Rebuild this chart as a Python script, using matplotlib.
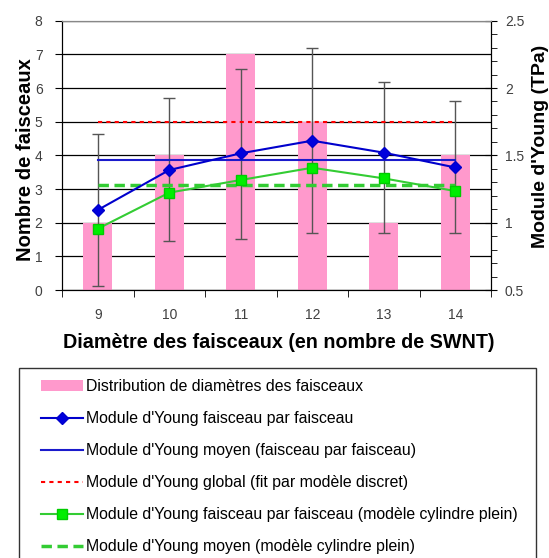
import matplotlib
matplotlib.use('Agg')
import matplotlib.pyplot as plt
from matplotlib.patches import Rectangle
import numpy as np

plt.rcParams['font.family'] = ['Liberation Sans', 'DejaVu Sans']

# data
diam = [9, 10, 11, 12, 13, 14]
counts = [2, 4, 7, 5, 2, 4]
young_fpf = [1.094, 1.391, 1.515, 1.609, 1.52, 1.41]
err_top = [1.658, 1.928, 2.139, 2.297, 2.047, 1.906]
err_bottom = [0.53, 0.864, 0.881, 0.926, 0.926, 0.926]
young_mean = 1.463
young_global = 1.75
young_cyl = [0.955, 1.223, 1.317, 1.408, 1.329, 1.235]
young_cyl_mean = 1.28
left_ticks = [0, 1, 2, 3, 4, 5, 6, 7, 8]
right_ticks = [0.5, 1, 1.5, 2, 2.5]
right_ticklabels = ['0.5', '1', '1.5', '2', '2.5']

labels = ["Distribution de diamètres des faisceaux",
          "Module d'Young faisceau par faisceau",
          "Module d'Young moyen (faisceau par faisceau)",
          "Module d'Young global (fit par modèle discret)",
          "Module d'Young faisceau par faisceau (modèle cylindre plein)",
          "Module d'Young moyen (modèle cylindre plein)"]

W, H = 549, 558
fig = plt.figure(figsize=(W / 100, H / 100), dpi=100)
ax = fig.add_axes([62 / W, 1 - 290 / H, (491 - 62) / W, (290 - 20.7) / H])
ax2 = ax.twinx()

x = np.array(diam)
tick_col = '#404040'

# bars + grid on the left axis
ax.set_axisbelow(True)
ax.yaxis.grid(True, color='black', linewidth=0.9)
bars = ax.bar(x, counts, width=0.4, color='#FF99CC', zorder=2)
ax.set_xlim(8.5, 14.5)
ax.set_ylim(0, 8)
ax.set_yticks(left_ticks)
ax.set_xticks(x)
ax.set_xticks(np.arange(8.5, 15, 1), minor=True)
ax.tick_params(axis='x', which='major', length=0, pad=13, labelsize=10, labelcolor=tick_col)
ax.tick_params(axis='x', which='minor', length=5, direction='out', color='black')
ax.tick_params(axis='y', length=5, direction='out', pad=9, labelsize=10, labelcolor=tick_col)
ax.set_ylabel('Nombre de faisceaux', fontsize=14.5, fontweight='bold')
ax.yaxis.set_label_coords(-0.063, 0.483)
ax.set_xlabel('Diamètre des faisceaux (en nombre de SWNT)', fontsize=14.2, fontweight='bold')
ax.xaxis.set_label_coords(0.506, -0.16)

# young modulus on the right axis
yerr = [np.array(young_fpf) - np.array(err_bottom), np.array(err_top) - np.array(young_fpf)]
ax2.errorbar(x, young_fpf, yerr=yerr, fmt='none', ecolor='#555555', elinewidth=1,
             capsize=4.5, capthick=1, zorder=2)
l_global, = ax2.plot([diam[0], diam[-1]], [young_global] * 2, color='#FF0000',
                     linestyle=(0, (2, 2)), linewidth=1.5, zorder=3)
l_mean, = ax2.plot([diam[0], diam[-1]], [young_mean] * 2, color='#1a1acc',
                   linewidth=1.5, zorder=3)
l_cyl_mean, = ax2.plot([diam[0], diam[-1]], [young_cyl_mean] * 2, color='#33CC33',
                       linestyle=(0, (3, 1.6)), linewidth=2.5, zorder=3)
l_cyl, = ax2.plot(x, young_cyl, color='#33CC33', linewidth=1.5, marker='s',
                  markersize=7, markerfacecolor='#00EE00', markeredgecolor='#00CC00', zorder=4)
l_fpf, = ax2.plot(x, young_fpf, color='#0000CC', linewidth=1.5, marker='D',
                  markersize=6.5, markerfacecolor='#0000DD', markeredgecolor='#0000CC', zorder=5)
ax2.set_ylim(0.5, 2.5)
ax2.set_yticks(right_ticks)
ax2.set_yticklabels(right_ticklabels)
ax2.set_yticks(np.arange(0.5, 2.51, 0.1), minor=True)
ax2.tick_params(axis='y', which='major', length=8, direction='inout', pad=6,
                labelsize=10, labelcolor=tick_col)
ax2.tick_params(axis='y', which='minor', length=4, direction='out')
ax2.set_ylabel("Module d'Young (TPa)", fontsize=14, fontweight='bold')
ax2.yaxis.set_label_coords((532 - 62) / 429, 0.535)

for a in (ax, ax2):
    a.spines['top'].set_color('#888888')
    a.spines['left'].set_color('black')
    a.spines['right'].set_color('black')
    a.spines['bottom'].set_color('black')

# legend with its own frame
fig.add_artist(Rectangle((19.3 / W, -0.05), (536 - 19.3) / W, (558 - 368) / H + 0.05,
                         transform=fig.transFigure, fill=False, edgecolor='#333333',
                         linewidth=1))
fs = 11.4
fig.legend([bars, l_fpf, l_mean, l_global, l_cyl, l_cyl_mean], labels,
           loc='upper left', bbox_to_anchor=(41 / W, 1 - 379 / H),
           bbox_transform=fig.transFigure, frameon=False, fontsize=fs,
           borderpad=0, borderaxespad=0, handlelength=2.66, handletextpad=0.19,
           labelspacing=1.08, numpoints=1)

fig.savefig('out.png', dpi=100)
